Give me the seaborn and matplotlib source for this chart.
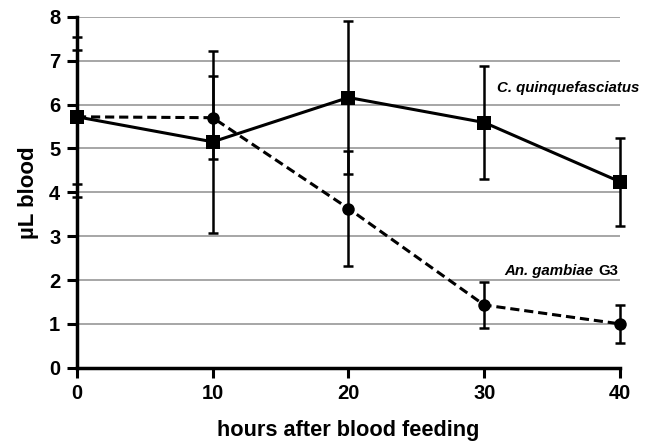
import matplotlib
matplotlib.use("Agg")
import matplotlib.pyplot as plt
import seaborn as sns
import pandas as pd
import numpy as np
from matplotlib.transforms import offset_copy

hours = [0, 10, 20, 30, 40]
culex_mean = [5.72, 5.15, 6.16, 5.59, 4.24]
culex_err = [1.83, 2.08, 1.74, 1.28, 1.00]
gambiae_mean = [5.72, 5.70, 3.63, 1.43, 1.00]
gambiae_err = [1.53, 0.94, 1.31, 0.52, 0.44]
yticks = [0, 1, 2, 3, 4, 5, 6, 7, 8]
xticks = [0, 10, 20, 30, 40]

sns.set_theme(style="white")
plt.rcParams['font.family'] = ['Liberation Sans', 'DejaVu Sans']
plt.rcParams['text.color'] = 'black'
plt.rcParams['axes.labelcolor'] = 'black'
plt.rcParams['xtick.color'] = 'black'
plt.rcParams['ytick.color'] = 'black'

df = pd.DataFrame({
    "hours": hours * 2,
    "blood": culex_mean + gambiae_mean,
    "err": culex_err + gambiae_err,
    "species": ["culex"] * 5 + ["gambiae"] * 5,
})

fig = plt.figure(figsize=(6.49, 4.42), dpi=100)
ax = fig.add_axes([0.1186, 0.168, 0.9553 - 0.1186, 0.962 - 0.168])

for y in yticks[1:]:
    ax.axhline(y, color="#a6a6a6", lw=1.4, zorder=0)

for sp, g in df.groupby("species"):
    ax.errorbar(g["hours"], g["blood"], yerr=g["err"], fmt="none",
                ecolor="black", elinewidth=1.8, capsize=3.5, capthick=1.8,
                zorder=2, clip_on=False)

sns.lineplot(data=df, x="hours", y="blood", style="species",
             markers={"culex": "s", "gambiae": "o"},
             dashes={"culex": "", "gambiae": (3, 1.6)},
             color="black", linewidth=2.2, markersize=10,
             markeredgewidth=0, legend=False, ax=ax, zorder=3, clip_on=False)
for line in ax.lines:
    if line.get_marker() == "o":
        line.set_markersize(9)

ax.set_xlim(0, 40)
ax.set_ylim(0, 8)
ax.set_xticks(xticks)
ax.set_yticks(yticks)
ax.tick_params(axis="both", which="major", direction="out", length=7, width=2.2,
               color="black", labelcolor="black", labelsize=14.5, pad=5,
               left=True, bottom=True)
for lab in ax.get_xticklabels() + ax.get_yticklabels():
    lab.set_fontweight("bold")

for s in ["top", "right"]:
    ax.spines[s].set_visible(False)
for s in ["left", "bottom"]:
    ax.spines[s].set_color("black")
    ax.spines[s].set_linewidth(2.5)

ax.set_xlabel("hours after blood feeding", fontsize=15.7, fontweight="bold",
              labelpad=12, color="black")
ax.set_ylabel("µL blood", fontsize=16, fontweight="bold", labelpad=7, color="black")

ax.text(41.4, 6.37, "C. quinquefasciatus", ha="right", va="center",
        fontsize=10.8, fontweight="bold", fontstyle="italic", clip_on=False)

g3 = ax.text(39.85, 2.2, "G3", ha="right", va="center", fontsize=10.8,
             fontweight="bold")
fig.canvas.draw()
w = g3.get_window_extent().width * 72 / fig.dpi
ax.text(39.85, 2.2, "An. gambiae", ha="right", va="center", fontsize=10.8,
        fontweight="bold", fontstyle="italic",
        transform=offset_copy(ax.transData, fig=fig, x=-(w + 3.0), y=0, units="points"))

fig.savefig("out.png", dpi=100)
